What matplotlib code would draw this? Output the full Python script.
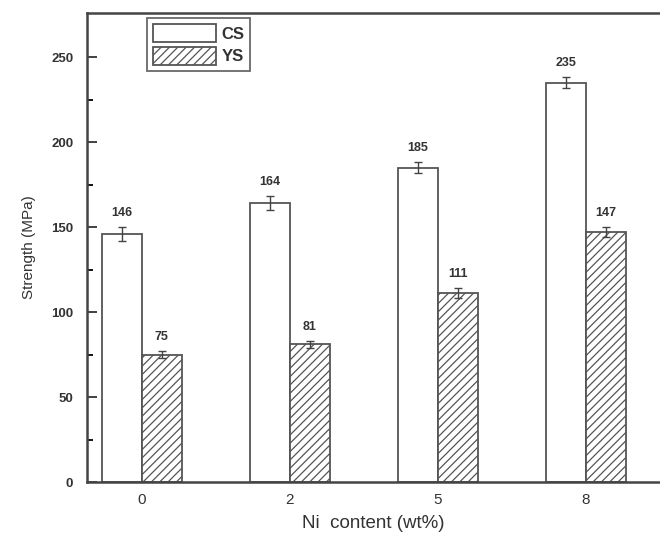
import matplotlib.pyplot as plt
import numpy as np

# Data
ni_content = ["0", "2", "5", "8"]
cs_values = [146, 164, 185, 235]
cs_err = [4, 4, 3, 3]
ys_values = [75, 81, 111, 147]
ys_err = [2, 2, 3, 3]

plt.rcParams['font.family'] = ['Liberation Sans', 'DejaVu Sans']
plt.rcParams['hatch.linewidth'] = 0.9
plt.rcParams['hatch.color'] = '#555555'

fig = plt.figure(figsize=(6.6, 5.35), dpi=100)
ax = fig.add_axes([0.132, 0.099, 0.868, 0.877])

x = np.arange(len(ni_content))
w = 0.27
edge = '#555555'

ax.bar(x - w / 2, cs_values, w, color='white', edgecolor=edge, linewidth=1.3,
       yerr=cs_err, error_kw=dict(ecolor='#444444', elinewidth=1.0, capsize=3, capthick=1.0),
       label='CS')
ax.bar(x + w / 2, ys_values, w, color='white', edgecolor=edge, linewidth=1.3, hatch='////',
       yerr=ys_err, error_kw=dict(ecolor='#444444', elinewidth=1.0, capsize=3, capthick=1.0),
       label='YS')

for xi, v, e in zip(x - w / 2, cs_values, cs_err):
    ax.annotate(str(v), (xi, v + e), xytext=(0, 6), textcoords='offset points',
                ha='center', va='bottom', fontsize=9, fontweight='bold', color='#333333')
for xi, v, e in zip(x + w / 2, ys_values, ys_err):
    ax.annotate(str(v), (xi, v + e), xytext=(0, 6), textcoords='offset points',
                ha='center', va='bottom', fontsize=9, fontweight='bold', color='#333333')

ax.set_xlim(-0.37, 3.5)
ax.set_ylim(0, 276)
ax.set_xticks(x)
ax.set_xticklabels(ni_content, fontsize=11)
ax.set_yticks([0, 50, 100, 150, 200, 250])
ax.set_yticks([25, 75, 125, 175, 225], minor=True)
ax.tick_params(axis='y', which='major', direction='in', length=7, width=1.3,
               labelsize=9.5, pad=10, colors='#333333')
ax.tick_params(axis='y', which='minor', direction='in', length=4, width=1.3)
ax.tick_params(axis='x', length=0, pad=8, colors='#333333')
for lab in ax.get_yticklabels():
    lab.set_fontweight('bold')

ax.set_ylabel('Strength (MPa)', fontsize=11, color='#333333', labelpad=11)
ax.set_xlabel('Ni  content (wt%)', fontsize=13.5, color='#333333', labelpad=6)

for s in ['left', 'bottom', 'top']:
    ax.spines[s].set_linewidth(1.8)
    ax.spines[s].set_color('#444444')
ax.spines['right'].set_visible(False)

leg = ax.legend(loc='upper left', bbox_to_anchor=(0.105, 0.988), fontsize=12, frameon=True,
                fancybox=False, edgecolor='#444444', handlelength=3.8, handleheight=1.3,
                handletextpad=0.3, borderpad=0.35, labelspacing=0.25, borderaxespad=0)
leg.get_frame().set_linewidth(1.3)
for t in leg.get_texts():
    t.set_fontweight('bold')
    t.set_color('#333333')

fig.savefig('out.png', dpi=100)
